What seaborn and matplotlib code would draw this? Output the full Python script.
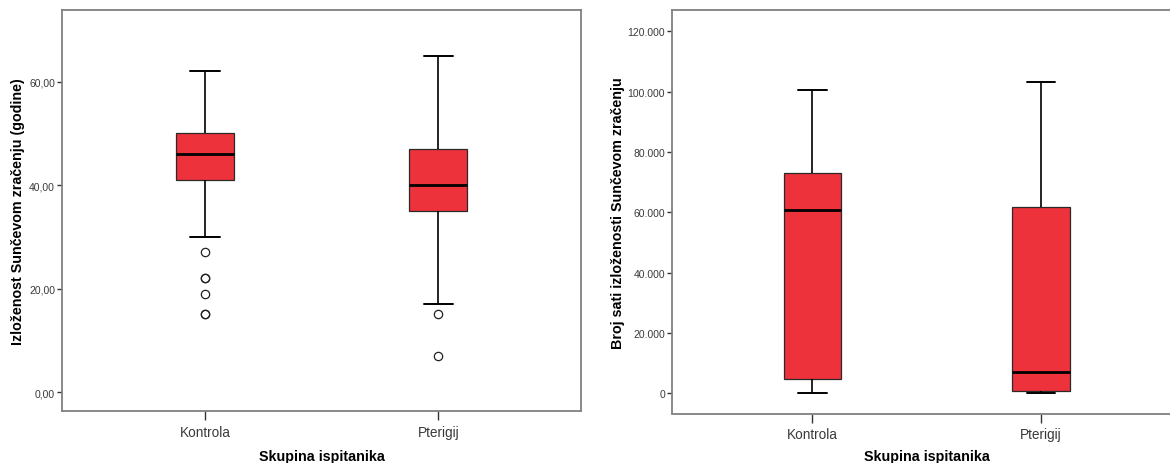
import matplotlib
matplotlib.use("Agg")
import matplotlib.pyplot as plt
import numpy as np
import pandas as pd
import seaborn as sns

# ---------------- data ----------------
categories = ["Kontrola", "Pterigij"]

# Left panel: Izloženost Sunčevom zračenju (godine)
age_whisker_low = [30, 17]
age_q1 = [41, 35]
age_median = [46, 40]
age_q3 = [50, 47]
age_whisker_high = [62, 65]
age_outliers = [[27, 22, 22, 19, 15, 15], [15, 7]]
age_ticks = [0, 20, 40, 60]
age_tick_labels = ["0,00", "20,00", "40,00", "60,00"]

# Right panel: Broj sati izloženosti Sunčevom zračenju
hours_whisker_low = [200, 100]
hours_q1 = [4840, 660]
hours_median = [60660, 6960]
hours_q3 = [73030, 61760]
hours_whisker_high = [100540, 103190]
hours_outliers = [[], []]
hours_ticks = [0, 20000, 40000, 60000, 80000, 100000, 120000]
hours_tick_labels = ["0", "20.000", "40.000", "60.000", "80.000", "100.000", "120.000"]

x_label = "Skupina ispitanika"
age_label = "Izloženost Sunčevom zračenju (godine)"
hours_label = "Broj sati izloženosti Sunčevom zračenju"


def build_table(wlo, q1, med, q3, whi, outl, m=40):
    """Long table whose box statistics equal the summary values above."""
    rows = []
    for i, cat in enumerate(categories):
        vals = (list(outl[i]) + [wlo[i]] + [q1[i]] * m + [med[i]] * m
                + [q3[i]] * m + [whi[i]])
        rows += [(cat, float(v)) for v in vals]
    return pd.DataFrame(rows, columns=["Skupina", "value"])


age_df = build_table(age_whisker_low, age_q1, age_median, age_q3,
                     age_whisker_high, age_outliers)
hours_df = build_table(hours_whisker_low, hours_q1, hours_median, hours_q3,
                       hours_whisker_high, hours_outliers)

# ---------------- style ----------------
sns.set_theme(style="white")
plt.rcParams["font.family"] = ["Liberation Sans", "DejaVu Sans"]

BOX_RED = "#EE323B"
SPINE = "#808080"
TICKLABEL = "#3a3a3a"

fig = plt.figure(figsize=(11.7, 4.64), dpi=100)
ax1 = fig.add_axes([62.3 / 1170, 1 - 412.3 / 464, 518.7 / 1170, 401.3 / 464])
ax2 = fig.add_axes([672.4 / 1170, 1 - 414.5 / 464, 508.4 / 1170, 403.5 / 464])

box_kws = dict(
    x="Skupina", y="value", order=categories, color=BOX_RED, saturation=1,
    width=0.25, whis=1.5, linecolor="black",
    boxprops=dict(edgecolor="#2a2a2a", linewidth=0.9),
    medianprops=dict(color="black", linewidth=2.0),
    whiskerprops=dict(color="black", linewidth=1.2),
    capprops=dict(color="black", linewidth=1.4),
    flierprops=dict(marker="o", markersize=6, markerfacecolor="none",
                    markeredgecolor="#222222", markeredgewidth=0.9),
)

sns.boxplot(data=age_df, ax=ax1, **box_kws)
sns.boxplot(data=hours_df, ax=ax2, **box_kws)

panels = [
    (ax1, age_ticks, age_tick_labels, age_label, (-3.73, 73.86), -0.0854, -0.112),
    (ax2, hours_ticks, hours_tick_labels, hours_label, (-6700, 127060), -0.107, -0.106),
]
for ax, ticks, labels, ylab, ylim, ylab_x, xlab_y in panels:
    ax.set_xlim(-0.6117, 1.6117)
    ax.set_ylim(*ylim)
    ax.set_yticks(ticks)
    ax.set_yticklabels(labels)
    ax.tick_params(axis="y", direction="out", length=3.8, width=1.0,
                   color="#333333", pad=1.5, labelsize=7.5, labelcolor=TICKLABEL,
                   left=True)
    ax.tick_params(axis="x", direction="out", length=6.8, width=1.0,
                   color="#333333", pad=3.0, labelsize=9.8, labelcolor=TICKLABEL,
                   bottom=True)
    for sp in ax.spines.values():
        sp.set_visible(True)
        sp.set_color(SPINE)
        sp.set_linewidth(1.3)
    ax.set_facecolor("white")
    ax.set_ylabel(ylab, fontsize=10.3, fontweight="bold", color="black")
    ax.yaxis.label.set_va("center")
    ax.yaxis.set_label_coords(ylab_x, 0.5)
    ax.set_xlabel(x_label, fontsize=10.3, fontweight="bold", color="black")
    ax.xaxis.label.set_va("center")
    ax.xaxis.set_label_coords(0.5, xlab_y)

fig.savefig("out.png", dpi=100, facecolor="white")
